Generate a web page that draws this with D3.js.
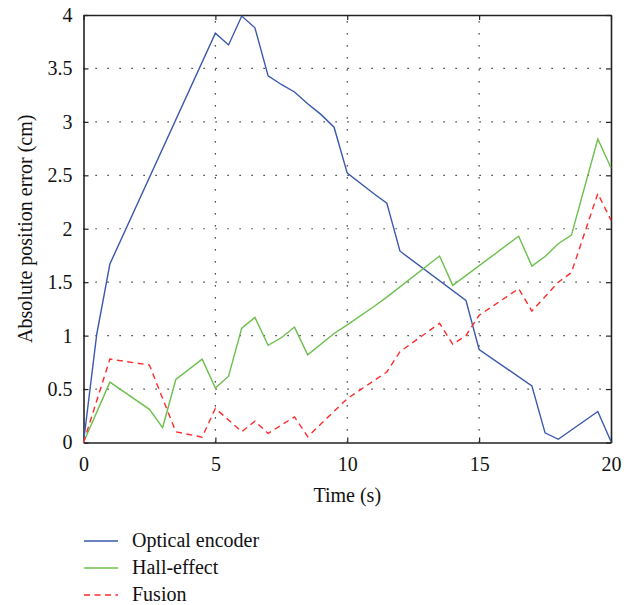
<!DOCTYPE html>
<html>
<head>
<meta charset="utf-8">
<script src="https://cdn.jsdelivr.net/npm/d3@7"></script>
<style>
  body { margin: 0; background: #fff; }
  svg text { font-family: "Liberation Serif", "DejaVu Serif", serif; fill: #111; }
</style>
</head>
<body>
<svg id="chart" width="636" height="605"></svg>
<script>
// Values
var xTicks = [0, 5, 10, 15, 20];
var yTicks = [0, 0.5, 1, 1.5, 2, 2.5, 3, 3.5, 4];

var timeOptical = [0, 0.5, 1, 5, 5.5, 6, 6.5, 7, 7.5, 8, 8.5, 9, 9.5, 10, 11, 11.5, 12, 14.5, 15, 17, 17.5, 18, 19.5, 20];
var optical = [0, 1.01, 1.67, 3.83, 3.72, 3.99, 3.88, 3.43, 3.35, 3.28, 3.17, 3.07, 2.95, 2.52, 2.33, 2.24, 1.79, 1.33, 0.87, 0.53, 0.09, 0.03, 0.29, 0.01];

var timeHall = [0, 1, 2.5, 3, 3.5, 4.5, 5, 5.5, 6, 6.5, 7, 7.5, 8, 8.5, 9.5, 10, 11, 11.5, 13.5, 14, 16.5, 17, 17.5, 18, 18.5, 19.5, 20];
var hall = [0, 0.565, 0.31, 0.14, 0.59, 0.78, 0.51, 0.62, 1.07, 1.17, 0.91, 0.98, 1.08, 0.82, 1.02, 1.10, 1.27, 1.36, 1.745, 1.47, 1.93, 1.65, 1.74, 1.86, 1.94, 2.84, 2.57];

var timeFusion = [0, 1, 2.5, 3.5, 4.5, 5, 6, 6.5, 7, 8, 8.5, 10, 11.5, 12, 13.5, 14, 14.5, 15, 16.5, 17, 18, 18.5, 19.5, 20];
var fusion = [0, 0.78, 0.725, 0.10, 0.05, 0.32, 0.10, 0.20, 0.085, 0.24, 0.055, 0.41, 0.66, 0.85, 1.115, 0.92, 1.0, 1.19, 1.44, 1.23, 1.50, 1.59, 2.33, 2.08];

var seriesNames = ["Optical encoder", "Hall-effect", "Fusion"];

var svg = d3.select("#chart");

// plot box
var plotL = 83.5, plotR = 611, plotT = 15, plotB = 442.5;
var fontSize = 20;

var x = d3.scaleLinear().domain([0, 20]).range([plotL, plotR]);
var y = d3.scaleLinear().domain([0, 4]).range([plotB, plotT]);

// dotted grid
var grid = svg.append("g");
grid.selectAll("line.gx")
  .data(xTicks.slice(1, -1))
  .enter().append("line")
    .attr("x1", d => x(d)).attr("x2", d => x(d))
    .attr("y1", plotB).attr("y2", plotT)
    .attr("stroke", "#111")
    .attr("stroke-width", 1.2)
    .attr("stroke-dasharray", "1.2,10.8");
grid.selectAll("line.gy")
  .data(yTicks.slice(1, -1))
  .enter().append("line")
    .attr("x1", plotL).attr("x2", plotR)
    .attr("y1", d => y(d)).attr("y2", d => y(d))
    .attr("stroke", "#111")
    .attr("stroke-width", 1.2)
    .attr("stroke-dasharray", "1.2,10.8");

// axes, ticks pointing inward, mirrored on top and right
svg.append("g")
  .attr("transform", "translate(0," + plotB + ")")
  .call(d3.axisBottom(x).tickValues(xTicks).tickSizeInner(-5).tickSizeOuter(0).tickPadding(14));
svg.append("g")
  .attr("transform", "translate(" + plotL + ",0)")
  .call(d3.axisLeft(y).tickValues(yTicks).tickFormat(d3.format("")).tickSizeInner(-5).tickSizeOuter(0).tickPadding(11));
svg.append("g")
  .attr("transform", "translate(0," + plotT + ")")
  .call(d3.axisTop(x).tickValues(xTicks).tickSizeInner(-5).tickSizeOuter(0).tickFormat(""));
svg.append("g")
  .attr("transform", "translate(" + plotR + ",0)")
  .call(d3.axisRight(y).tickValues(yTicks).tickSizeInner(-5).tickSizeOuter(0).tickFormat(""));

svg.selectAll(".domain").attr("stroke", "#222").attr("stroke-width", 1.6);
svg.selectAll(".tick line").attr("stroke", "#222").attr("stroke-width", 1.2);
svg.selectAll(".tick text")
  .attr("font-family", "Liberation Serif, DejaVu Serif, serif")
  .attr("font-size", fontSize)
  .attr("fill", "#111");

// axis titles
svg.append("text")
  .attr("x", x(10))
  .attr("y", 502)
  .attr("text-anchor", "middle")
  .attr("font-size", fontSize)
  .text("Time (s)");
svg.append("text")
  .attr("transform", "translate(32," + y(2) + ") rotate(-90)")
  .attr("text-anchor", "middle")
  .attr("font-size", fontSize)
  .text("Absolute position error (cm)");

// lines
var lineGen = d3.line()
  .x(d => x(d[0]))
  .y(d => y(d[1]));

var series = [
  { name: seriesNames[0], t: timeOptical, v: optical, color: "#3a58ad", dash: null },
  { name: seriesNames[1], t: timeHall, v: hall, color: "#6cbf4c", dash: null },
  { name: seriesNames[2], t: timeFusion, v: fusion, color: "#ff2a2a", dash: "6,4.5" }
];

series.forEach(function(s) {
  var pts = s.t.map((tt, i) => [tt, s.v[i]]);
  svg.append("path")
    .datum(pts)
    .attr("d", lineGen)
    .attr("fill", "none")
    .attr("stroke", s.color)
    .attr("stroke-width", 1.4)
    .attr("stroke-dasharray", s.dash);
});

// legend
var legend = svg.append("g");
series.forEach(function(s, i) {
  var ly = 541 + i * 27;
  legend.append("line")
    .attr("x1", 84).attr("x2", 118)
    .attr("y1", ly).attr("y2", ly)
    .attr("stroke", s.color)
    .attr("stroke-width", 1.4)
    .attr("stroke-dasharray", s.dash);
  legend.append("text")
    .attr("x", 132)
    .attr("y", ly + 6)
    .attr("font-size", fontSize)
    .text(s.name);
});
</script>
</body>
</html>
